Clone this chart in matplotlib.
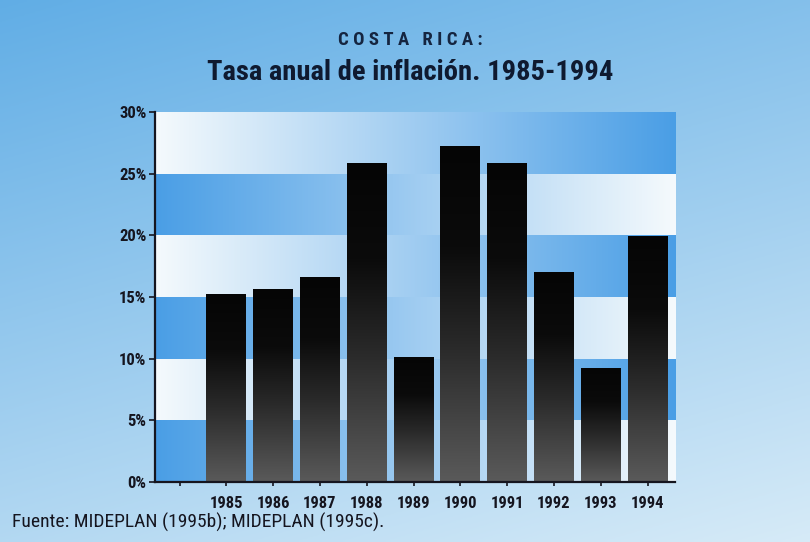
#! /usr/bin/env python3
# Costa Rica annual inflation 1985-1994, gradient bars over striped background

import numpy as np
import matplotlib
matplotlib.use("Agg")
import matplotlib.pyplot as plt
from matplotlib.colors import LinearSegmentedColormap
from matplotlib import font_manager

years = ["1985", "1986", "1987", "1988", "1989", "1990", "1991", "1992", "1993", "1994"]
inflation = [15.2, 15.6, 16.6, 25.8, 10.1, 27.2, 25.8, 17.0, 9.2, 19.9]
y_ticks = [0, 5, 10, 15, 20, 25, 30]

# narrowest family we can find
names = set(f.name for f in font_manager.fontManager.ttflist)
family = "DejaVu Sans"
for cand in ["Roboto Condensed", "Liberation Sans Narrow", "Open Sans Condensed", "Lato"]:
    if cand in names:
        family = cand
        break
plt.rcParams["font.family"] = [family, "DejaVu Sans"]

fig = plt.figure(figsize=(8.1, 5.42), dpi=100)

# page background: blue at the top, lighter toward the bottom / right
bg = fig.add_axes([0, 0, 1, 1])
bg.set_axis_off()
yy, xx = np.mgrid[0:1:200j, 0:1:300j]
t = np.clip(0.7 * yy + 0.3 * xx, 0, 1)
top = np.array([0.38, 0.68, 0.90])
bot = np.array([0.84, 0.92, 0.97])
img = top[None, None, :] * (1 - t[..., None]) + bot[None, None, :] * t[..., None]
bg.imshow(img, extent=(0, 1, 0, 1), aspect="auto", origin="upper")
bg.set_xlim(0, 1)
bg.set_ylim(0, 1)

ax = fig.add_axes([0.191, 0.1107, 0.642, 0.6827])
ax.patch.set_alpha(0)
xmin, xmax = -0.53, 10.58

# alternating bands with horizontal gradients
blue = np.array([0.29, 0.62, 0.90])
white = np.array([0.96, 0.98, 0.99])
ramp = np.linspace(0, 1, 256)
for i in range(6):
    if i % 2 == 0:
        a, b = blue, white
    else:
        a, b = white, blue
    row = a[None, :] * (1 - ramp[:, None]) + b[None, :] * ramp[:, None]
    ax.imshow(np.clip(row, 0, 1)[None, :, :], extent=(xmin, xmax, i * 5, i * 5 + 5),
              aspect="auto", zorder=0, interpolation="bilinear")

# bars, filled with a vertical dark gradient
pos = np.arange(1, len(years) + 1)
bars = ax.bar(pos, inflation, width=0.85, color="none", zorder=2)
bar_cmap = LinearSegmentedColormap.from_list(
    "bar", [(0, "#5a5a5a"), (0.4, "#2a2a2a"), (0.7, "#0b0b0b"), (1, "#050505")])
grad = np.linspace(1, 0, 256)[:, None]
for r in bars:
    x0 = r.get_x()
    ax.imshow(grad, cmap=bar_cmap, vmin=0, vmax=1,
              extent=(x0, x0 + r.get_width(), 0, r.get_height()),
              aspect="auto", zorder=2, interpolation="bilinear")
ax.set_xlim(xmin, xmax)
ax.set_ylim(0, 30)

ax.set_yticks(y_ticks)
ax.set_yticklabels(["{}%".format(v) for v in y_ticks])
ax.set_xticks(np.arange(0, len(years) + 1))
ax.set_xticklabels([""] + years)
for lbl in ax.get_xticklabels() + ax.get_yticklabels():
    lbl.set_fontweight("bold")
    lbl.set_fontsize(12)
    lbl.set_color("#15151f")
ax.tick_params(axis="y", length=4, width=1.2, pad=2, color="#15151f")
ax.tick_params(axis="x", length=3, width=1.2, pad=7, color="#15151f")
for s in ["top", "right"]:
    ax.spines[s].set_visible(False)
for s in ["left", "bottom"]:
    ax.spines[s].set_linewidth(1.6)
    ax.spines[s].set_color("#15151f")
    ax.spines[s].set_zorder(5)

fig.text(0.506, 0.926, "C O S T A   R I C A :", ha="center", va="center",
         fontsize=13.5, fontweight="bold", color="#152540")
fig.text(0.506, 0.866, "Tasa anual de inflación. 1985-1994", ha="center", va="center",
         fontsize=20.5, fontweight="bold", color="#0f1a30")
fig.text(0.015, 0.037, "Fuente: MIDEPLAN (1995b); MIDEPLAN (1995c).", ha="left",
         va="center", fontsize=14, color="#15151f")

fig.savefig("out.png", dpi=100)
